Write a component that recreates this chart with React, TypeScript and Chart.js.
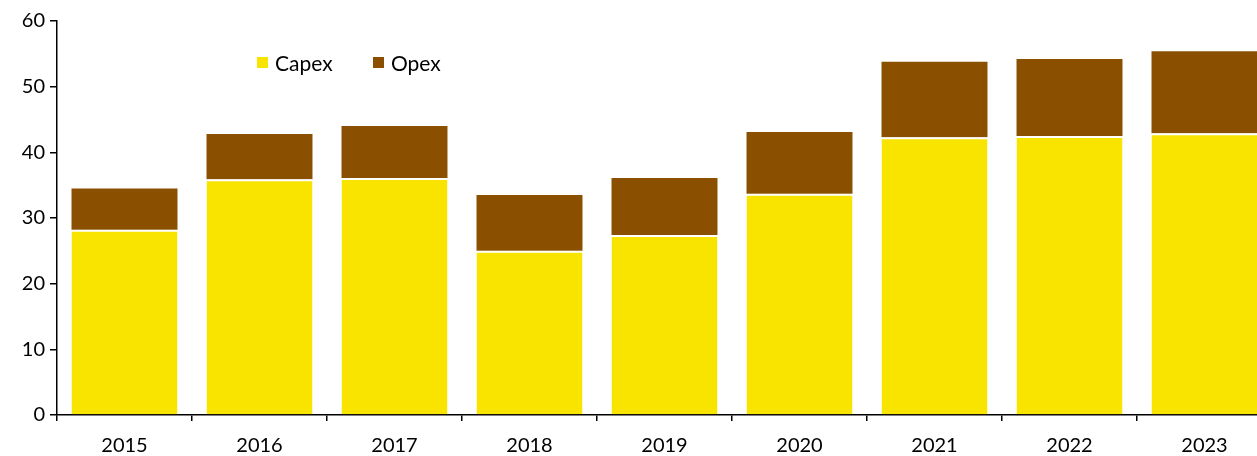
import React, { useEffect, useRef } from "react";
import { Chart, registerables } from "chart.js";

Chart.register(...registerables);

const years = ["2015", "2016", "2017", "2018", "2019", "2020", "2021", "2022", "2023"];
const capex = [28.2, 35.9, 36.1, 25.0, 27.4, 33.7, 42.3, 42.5, 42.9];
const opex = [6.3, 6.9, 7.9, 8.5, 8.7, 9.4, 11.5, 11.7, 12.5];
const yTicks = [0, 10, 20, 30, 40, 50, 60];

const CAPEX_COLOR = "#F9E400";
const OPEX_COLOR = "#8A5000";
const FONT_FAMILY = "Lato, 'Open Sans', sans-serif";

export default function App() {
  const canvasRef = useRef<HTMLCanvasElement | null>(null);

  useEffect(() => {
    const canvas = canvasRef.current;
    if (!canvas) return;
    const chart = new Chart(canvas, {
      type: "bar",
      data: {
        labels: years,
        datasets: [
          {
            label: "Capex",
            data: capex,
            backgroundColor: CAPEX_COLOR,
            borderColor: "#ffffff",
            borderWidth: { top: 2, left: 0, right: 0, bottom: 0 },
            borderSkipped: false,
            barPercentage: 0.785,
            categoryPercentage: 1,
          },
          {
            label: "Opex",
            data: opex,
            backgroundColor: OPEX_COLOR,
            borderWidth: 0,
            barPercentage: 0.785,
            categoryPercentage: 1,
          },
        ],
      },
      options: {
        responsive: false,
        animation: false,
        layout: { padding: { top: 21, right: 8, left: 0, bottom: 0 } },
        plugins: {
          legend: { display: false },
          tooltip: { enabled: false },
        },
        scales: {
          x: {
            stacked: true,
            offset: true,
            grid: {
              display: true,
              drawOnChartArea: false,
              offset: true,
              tickLength: 6,
              color: "#000",
              lineWidth: 1.5,
            },
            border: { color: "#000", width: 1.5 },
            ticks: {
              color: "#000",
              font: { family: FONT_FAMILY, size: 20 },
              padding: 13,
            },
            afterFit: (s: any) => {
              s.height = 41;
            },
          },
          y: {
            stacked: true,
            min: 0,
            max: 60,
            afterBuildTicks: (s: any) => {
              s.ticks = yTicks.map((v) => ({ value: v }));
            },
            grid: {
              display: true,
              drawOnChartArea: false,
              tickLength: 7,
              color: "#000",
              lineWidth: 1.5,
            },
            border: { color: "#000", width: 1.5 },
            ticks: {
              color: "#000",
              font: { family: FONT_FAMILY, size: 20 },
              padding: 5,
            },
            afterFit: (s: any) => {
              s.width = 57;
            },
          },
        },
      },
    });
    return () => chart.destroy();
  }, []);

  const legendText: React.CSSProperties = {
    position: "absolute",
    top: 50,
    fontFamily: FONT_FAMILY,
    fontSize: 21,
    lineHeight: "25px",
    color: "#000",
    whiteSpace: "nowrap",
  };
  const box: React.CSSProperties = {
    position: "absolute",
    top: 57,
    width: 11,
    height: 11,
  };

  return (
    <div
      style={{
        position: "fixed",
        left: 0,
        top: 0,
        width: 1257,
        height: 456,
        overflow: "hidden",
        background: "#fff",
      }}
    >
      <canvas
        ref={canvasRef}
        width={1280}
        height={456}
        style={{ position: "absolute", left: 0, top: 0, width: 1280, height: 456 }}
      />
      <div style={{ ...box, left: 257, background: CAPEX_COLOR }} />
      <div style={{ ...legendText, left: 275 }}>Capex</div>
      <div style={{ ...box, left: 373, background: OPEX_COLOR }} />
      <div style={{ ...legendText, left: 391 }}>Opex</div>
    </div>
  );
}
